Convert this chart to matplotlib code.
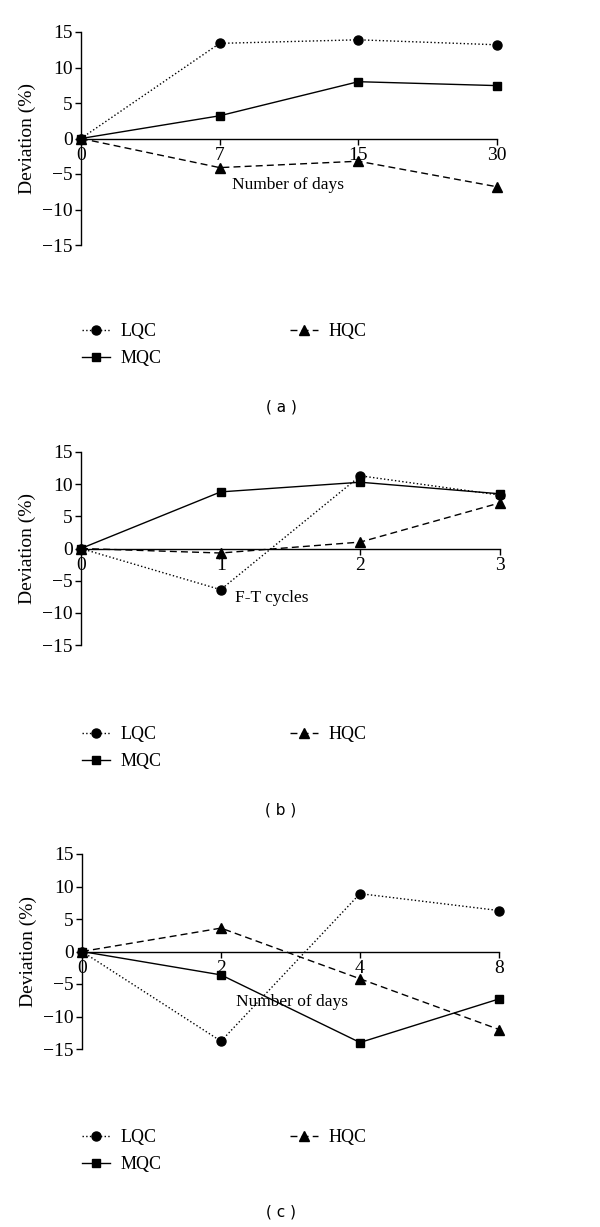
import numpy as np
import matplotlib.pyplot as plt

plt.rcParams['font.family'] = ['Liberation Serif', 'DejaVu Serif']

# panel (a): storage days
days_a = ['0', '7', '15', '30']
lqc_a = [0, 13.4, 13.9, 13.2]
mqc_a = [0, 3.2, 8.0, 7.45]
hqc_a = [0, -4.1, -3.2, -6.8]

# panel (b): freeze-thaw cycles
cycles_b = ['0', '1', '2', '3']
lqc_b = [0, -6.4, 11.3, 8.3]
mqc_b = [0, 8.8, 10.3, 8.5]
hqc_b = [0, -0.7, 1.0, 7.1]

# panel (c): storage days
days_c = ['0', '2', '4', '8']
lqc_c = [0, -13.8, 8.9, 6.3]
mqc_c = [0, -3.6, -14.0, -7.3]
hqc_c = [0, 3.6, -4.2, -12.0]

W, H = 600, 1227
fig = plt.figure(figsize=(W / 100, H / 100), dpi=100)


def px_axes(left, right, top, bottom):
    return fig.add_axes([left / W, 1 - bottom / H, (right - left) / W, (bottom - top) / H])


def panel(ax, cats, lqc, mqc, hqc, xlabel, xlab_x, xlab_y, leg_y, tag, tag_y):
    x = np.arange(len(cats))
    l1, = ax.plot(x, lqc, color='black', ls=':', lw=1, marker='o', ms=6.5, clip_on=False, label='LQC')
    l2, = ax.plot(x, mqc, color='black', ls='-', lw=1, marker='s', ms=6, clip_on=False, label='MQC')
    l3, = ax.plot(x, hqc, color='black', ls=(0, (5, 3)), lw=1, marker='^', ms=6.5, clip_on=False, label='HQC')
    ax.set_xlim(0, len(cats) - 1)
    ax.set_ylim(-15, 15)
    ax.set_yticks([-15, -10, -5, 0, 5, 10, 15])
    ax.set_yticklabels(['\u221215', '\u221210', '\u22125', '0', '5', '10', '15'])
    ax.set_xticks(x)
    ax.set_xticklabels(cats)
    ax.spines['top'].set_visible(False)
    ax.spines['right'].set_visible(False)
    ax.spines['bottom'].set_position(('data', 0))
    ax.spines['left'].set_linewidth(1)
    ax.spines['bottom'].set_linewidth(1)
    ax.tick_params(axis='y', direction='out', length=4, width=1, labelsize=14, pad=2)
    ax.tick_params(axis='x', direction='out', length=4, width=1, labelsize=14, pad=2)
    ax.patch.set_alpha(0)
    ax.set_ylabel('Deviation (%)', fontsize=14, labelpad=4)
    fig.text(xlab_x / W, 1 - xlab_y / H, xlabel, fontsize=12.5, ha='center', va='center')
    fig.legend([l1, l2, l3], ['LQC', 'MQC', 'HQC'], ncol=2, frameon=False,
               loc='upper left', bbox_to_anchor=(82 / W, 1 - (leg_y - 9) / H),
               fontsize=13, handlelength=1.55, handletextpad=0.6, columnspacing=7.1,
               labelspacing=0.57, borderpad=0, borderaxespad=0)
    fig.text(281 / W, 1 - tag_y / H, '( ' + tag + ' )', fontsize=11, ha='center', va='center',
             family='DejaVu Sans')


ax_a = px_axes(81, 497, 32, 245)
panel(ax_a, days_a, lqc_a, mqc_a, hqc_a, 'Number of days', 288, 185, 332, 'a', 407)

ax_b = px_axes(81, 500, 452, 645)
panel(ax_b, cycles_b, lqc_b, mqc_b, hqc_b, 'F-T cycles', 272, 598, 735, 'b', 810)

ax_c = px_axes(82, 499, 854, 1049)
panel(ax_c, days_c, lqc_c, mqc_c, hqc_c, 'Number of days', 292, 1002, 1138, 'c', 1212)

fig.savefig('out.png', dpi=100)
